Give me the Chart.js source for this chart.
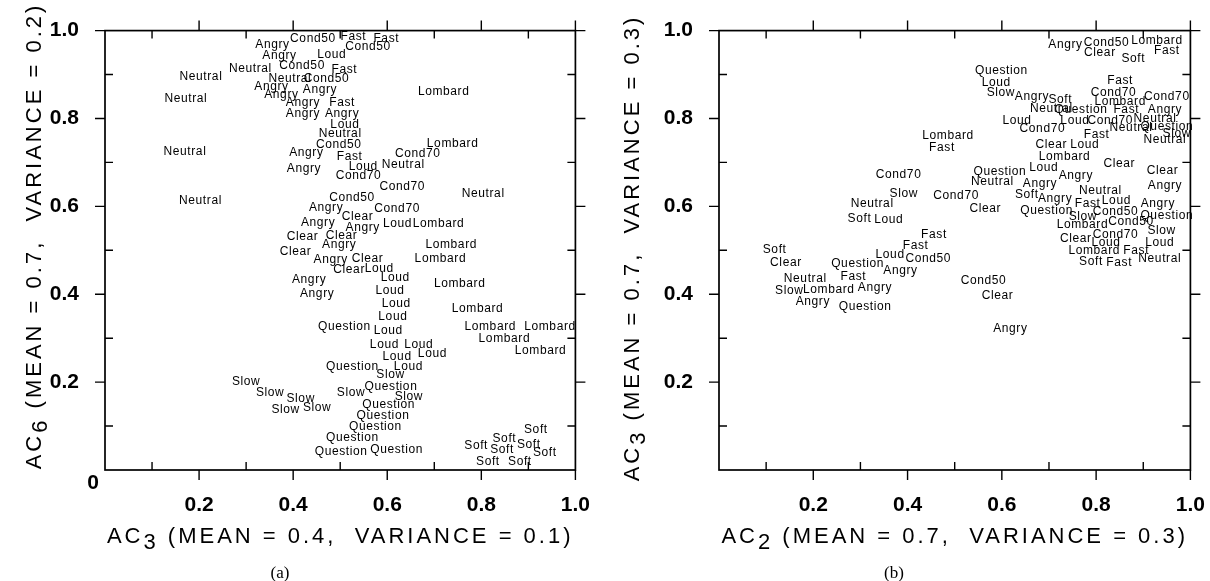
<!DOCTYPE html>
<html><head><meta charset="utf-8">
<script src="https://cdn.jsdelivr.net/npm/chart.js@4.4.1/dist/chart.umd.min.js"></script>
<style>
html,body{margin:0;padding:0;background:#fff;overflow:hidden;}
#wrap{position:relative;width:1210px;height:581px;overflow:hidden;background:#fff;}
.c{position:absolute;top:0;height:581px;}
</style></head><body>
<div id="wrap">
  <div class="c" style="left:0;width:605px"><canvas id="ca"></canvas></div>
  <div class="c" style="left:600px;width:620px"><canvas id="cb"></canvas></div>
</div>
<script>
// ---------- data (panel a) ----------
const leftText = ['Cond50','Fast','Fast','Cond50','Angry','Angry','Loud','Neutral','Cond50','Fast',
 'Neutral','Neutral','Cond50','Angry','Angry','Angry','Lombard','Neutral','Angry','Fast',
 'Angry','Angry','Loud','Neutral','Cond50','Lombard','Neutral','Angry','Fast','Cond70',
 'Loud','Neutral','Angry','Cond70','Cond70','Neutral','Neutral','Cond50','Angry','Cond70',
 'Clear','Angry','Angry','Loud','Lombard','Clear','Clear','Angry','Lombard','Clear',
 'Angry','Clear','Lombard','Clear','Loud','Angry','Loud','Lombard','Angry','Loud',
 'Loud','Lombard','Loud','Question','Loud','Lombard','Lombard','Lombard','Lombard','Loud',
 'Loud','Loud','Loud','Question','Loud','Slow','Slow','Question','Slow','Slow',
 'Slow','Slow','Question','Slow','Slow','Question','Question','Question','Question','Question',
 'Soft','Soft','Soft','Soft','Soft','Soft','Soft','Soft'];
const leftX = [0.442,0.528,0.598,0.559,0.356,0.371,0.482,0.309,0.419,0.509,
 0.204,0.393,0.471,0.354,0.375,0.457,0.720,0.172,0.421,0.504,
 0.421,0.504,0.510,0.500,0.497,0.739,0.170,0.428,0.520,0.665,
 0.549,0.634,0.423,0.539,0.632,0.804,0.203,0.525,0.470,0.621,
 0.537,0.453,0.548,0.622,0.709,0.420,0.503,0.498,0.736,0.405,
 0.480,0.558,0.713,0.519,0.583,0.434,0.617,0.754,0.451,0.606,
 0.619,0.792,0.612,0.509,0.602,0.819,0.946,0.849,0.926,0.594,
 0.667,0.621,0.696,0.526,0.645,0.607,0.300,0.608,0.351,0.416,
 0.523,0.646,0.603,0.384,0.451,0.591,0.575,0.526,0.502,0.620,
 0.916,0.849,0.901,0.789,0.844,0.814,0.882,0.935];
const leftY = [0.982,0.986,0.982,0.964,0.969,0.943,0.945,0.914,0.920,0.911,
 0.894,0.891,0.891,0.872,0.854,0.865,0.862,0.846,0.835,0.835,
 0.811,0.811,0.787,0.766,0.740,0.743,0.725,0.722,0.714,0.720,
 0.690,0.694,0.685,0.670,0.644,0.629,0.612,0.619,0.597,0.595,
 0.577,0.563,0.551,0.560,0.560,0.530,0.533,0.513,0.513,0.496,
 0.478,0.480,0.481,0.455,0.458,0.433,0.437,0.424,0.402,0.408,
 0.379,0.366,0.348,0.327,0.318,0.327,0.327,0.299,0.272,0.285,
 0.285,0.259,0.264,0.236,0.236,0.217,0.202,0.190,0.176,0.162,
 0.175,0.167,0.149,0.138,0.141,0.124,0.099,0.073,0.042,0.046,
 0.092,0.072,0.058,0.056,0.046,0.019,0.019,0.040];

// ---------- data (panel b) ----------
const rightText = ['Angry','Cond50','Lombard','Clear','Fast','Soft','Question','Fast','Loud','Slow',
 'Angry','Soft','Cond70','Cond70','Lombard','Angry','Neutral','Question','Fast','Loud',
 'Cond70','Loud','Cond70','Neutral','Neutral','Question','Slow','Neutral','Fast','Lombard',
 'Fast','Clear','Loud','Lombard','Clear','Clear','Cond70','Question','Loud','Angry',
 'Angry','Neutral','Angry','Neutral','Slow','Cond70','Soft','Angry','Fast','Loud',
 'Angry','Neutral','Clear','Question','Slow','Cond50','Question','Lombard','Cond50','Soft',
 'Loud','Fast','Clear','Cond70','Slow','Loud','Loud','Fast','Soft','Lombard',
 'Fast','Loud','Cond50','Clear','Question','Angry','Soft','Fast','Neutral','Neutral',
 'Fast','Cond50','Slow','Lombard','Angry','Clear','Angry','Question','Angry'];
const rightX = [0.735,0.822,0.929,0.808,0.950,0.879,0.599,0.851,0.588,0.598,
 0.664,0.724,0.837,0.950,0.851,0.946,0.705,0.768,0.864,0.632,
 0.686,0.755,0.830,0.925,0.874,0.950,0.971,0.946,0.801,0.486,
 0.473,0.705,0.776,0.733,0.849,0.941,0.381,0.596,0.689,0.757,
 0.946,0.580,0.681,0.809,0.392,0.503,0.653,0.713,0.782,0.843,
 0.931,0.325,0.565,0.695,0.772,0.841,0.950,0.771,0.874,0.298,
 0.360,0.456,0.757,0.841,0.939,0.821,0.935,0.417,0.118,0.796,
 0.885,0.363,0.444,0.142,0.294,0.385,0.789,0.849,0.935,0.183,
 0.285,0.561,0.149,0.233,0.331,0.591,0.199,0.310,0.618];
const rightY = [0.969,0.973,0.978,0.950,0.955,0.935,0.909,0.885,0.882,0.858,
 0.850,0.843,0.859,0.850,0.839,0.819,0.822,0.820,0.819,0.796,
 0.776,0.794,0.796,0.799,0.779,0.781,0.766,0.752,0.763,0.761,
 0.733,0.740,0.740,0.714,0.696,0.681,0.673,0.679,0.688,0.670,
 0.647,0.657,0.652,0.636,0.629,0.625,0.627,0.618,0.606,0.614,
 0.605,0.606,0.595,0.590,0.577,0.588,0.578,0.558,0.565,0.573,
 0.569,0.536,0.526,0.536,0.545,0.517,0.518,0.510,0.502,0.500,
 0.500,0.489,0.480,0.471,0.469,0.454,0.473,0.471,0.480,0.435,
 0.440,0.431,0.407,0.411,0.415,0.396,0.382,0.372,0.321];

// ---------- ticks ----------
const majorTicks = [0.2,0.4,0.6,0.8,1.0];
const majorTickText = ['0.2','0.4','0.6','0.8','1.0'];
const minorTicks = [0.1,0.3,0.5,0.7,0.9];

const leftXTitle  = [{t:'AC'},{t:'3',sub:true},{t:' (MEAN = 0.4,  VARIANCE = 0.1)'}];
const leftYTitle  = [{t:'AC'},{t:'6',sub:true},{t:' (MEAN = 0.7,  VARIANCE = 0.2)'}];
const rightXTitle = [{t:'AC'},{t:'2',sub:true},{t:' (MEAN = 0.7,  VARIANCE = 0.3)'}];
const rightYTitle = [{t:'AC'},{t:'3',sub:true},{t:' (MEAN = 0.7,  VARIANCE = 0.3)'}];

const SANS = '"Liberation Sans", Arial, Helvetica, sans-serif';

function drawTitle(ctx, parts, bx, by, rot, spacing) {
  ctx.save();
  ctx.translate(bx, by);
  ctx.rotate(rot);
  ctx.font = '22px ' + SANS;
  ctx.letterSpacing = spacing + 'px';
  ctx.fillStyle = '#000';
  ctx.textAlign = 'left';
  ctx.textBaseline = 'alphabetic';
  const total = parts.reduce((s, p) => s + ctx.measureText(p.t).width, 0);
  let xx = -total / 2;
  parts.forEach(p => {
    ctx.fillText(p.t, xx, p.sub ? 6 : 0);
    xx += ctx.measureText(p.t).width;
  });
  ctx.restore();
}

const labelPlugin = {
  id: 'textLabels',
  afterDatasetsDraw(chart) {
    const ctx = chart.ctx;
    ctx.save();
    ctx.font = '12px ' + SANS;
    ctx.letterSpacing = '0.6px';
    ctx.fillStyle = '#000';
    ctx.textAlign = 'center';
    ctx.textBaseline = 'middle';
    chart.data.datasets.forEach((ds, di) => {
      const meta = chart.getDatasetMeta(di);
      meta.data.forEach((pt, i) => ctx.fillText(ds.pointText[i], pt.x, pt.y));
    });
    ctx.restore();
  }
};

const framePlugin = {
  id: 'frame',
  afterDraw(chart, args, o) {
    const ctx = chart.ctx, a = chart.chartArea, xs = chart.scales.x, ys = chart.scales.y;
    ctx.save();
    ctx.strokeStyle = '#000';
    ctx.lineWidth = 1.7;
    ctx.strokeRect(a.left, a.top, a.right - a.left, a.bottom - a.top);
    ctx.lineWidth = 1.4;
    const L = 10, M = 8;
    ctx.beginPath();
    majorTicks.forEach(v => {
      const px = xs.getPixelForValue(v), py = ys.getPixelForValue(v);
      ctx.moveTo(px, a.bottom); ctx.lineTo(px, a.bottom + L);
      ctx.moveTo(px, a.top); ctx.lineTo(px, a.top - L);
      ctx.moveTo(a.left, py); ctx.lineTo(a.left - L, py);
      ctx.moveTo(a.right, py); ctx.lineTo(a.right + L, py);
    });
    minorTicks.forEach(v => {
      const px = xs.getPixelForValue(v), py = ys.getPixelForValue(v);
      ctx.moveTo(px, a.bottom); ctx.lineTo(px, a.bottom - M);
      ctx.moveTo(px, a.top); ctx.lineTo(px, a.top + M);
      ctx.moveTo(a.left, py); ctx.lineTo(a.left + M, py);
      ctx.moveTo(a.right, py); ctx.lineTo(a.right - M, py);
    });
    ctx.stroke();
    ctx.restore();

    const cx = (a.left + a.right) / 2;
    drawTitle(ctx, o.xTitle, cx, a.bottom + 73, 0, 3);
    drawTitle(ctx, o.yTitle, a.left - o.yTitleOff, o.yTitleY, -Math.PI / 2, 3);

    ctx.save();
    ctx.fillStyle = '#000';
    ctx.textAlign = 'center';
    ctx.textBaseline = 'alphabetic';
    ctx.font = '17px "Liberation Serif", "Times New Roman", serif';
    ctx.fillText(o.caption, a.left + 175, 578);
    if (o.origin) {
      ctx.font = 'bold 21px ' + SANS;
      ctx.textBaseline = 'middle';
      ctx.fillText(o.origin, a.left - 12, a.bottom + 13);
    }
    ctx.restore();
  }
};

function makeChart(id, texts, xv, yv, area, opts) {
  const pts = xv.map((x, i) => ({x: x, y: yv[i]}));
  const tickFont = {family: SANS, size: 21, weight: 'bold'};
  const scaleCommon = {
    type: 'linear', min: 0, max: 1,
    grid: {display: false},
    border: {display: false},
    afterBuildTicks: s => { s.ticks = majorTicks.map(v => ({value: v})); },
    ticks: {
      color: '#000', font: tickFont, autoSkip: false, maxRotation: 0,
      callback: (v, i) => majorTickText[i]
    }
  };
  return new Chart(document.getElementById(id), {
    type: 'scatter',
    data: {datasets: [{data: pts, pointText: texts, pointRadius: 0, pointHoverRadius: 0, showLine: false}]},
    options: {
      responsive: true, maintainAspectRatio: false, animation: false, devicePixelRatio: 1,
      events: [],
      layout: {padding: {left: 0, top: area.top, right: area.padRight, bottom: 0}},
      plugins: {legend: {display: false}, tooltip: {enabled: false}, frame: opts},
      scales: {
        x: Object.assign({}, scaleCommon, {
          position: 'bottom',
          ticks: Object.assign({}, scaleCommon.ticks, {padding: 15}),
          afterFit: s => { s.height = 581 - area.bottom; }
        }),
        y: Object.assign({}, scaleCommon, {
          position: 'left',
          ticks: Object.assign({}, scaleCommon.ticks, {padding: 18}),
          afterFit: s => { s.width = area.left; }
        })
      }
    },
    plugins: [labelPlugin, framePlugin]
  });
}

makeChart('ca', leftText, leftX, leftY,
  {left: 105, top: 22, bottom: 470, padRight: 605 - 581},
  {xTitle: leftXTitle, yTitle: leftYTitle, yTitleOff: 64, yTitleY: 236, caption: '(a)', origin: '0'});
makeChart('cb', rightText, rightX, rightY,
  {left: 119, top: 22, bottom: 470, padRight: 620 - 597},
  {xTitle: rightXTitle, yTitle: rightYTitle, yTitleOff: 80, yTitleY: 248, caption: '(b)', origin: null});
</script>
</body></html>
